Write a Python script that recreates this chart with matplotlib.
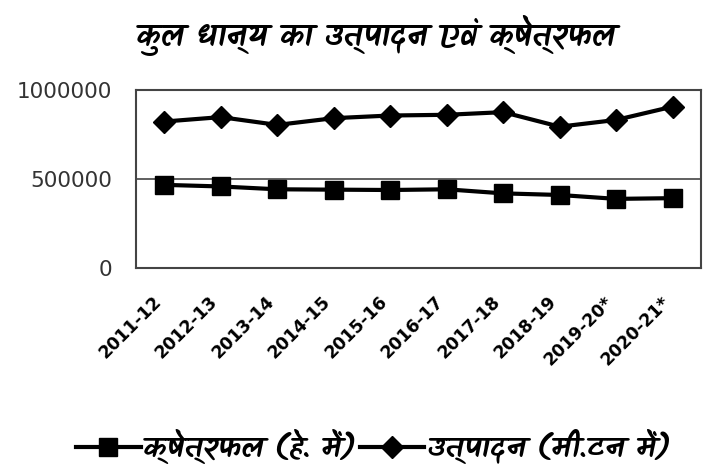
import numpy as np
import matplotlib
matplotlib.use("Agg")
import matplotlib.pyplot as plt
import matplotlib.transforms as mtransforms
from matplotlib import font_manager as fm
from matplotlib.ft2font import FT2Font

# data
years = ["2011-12", "2012-13", "2013-14", "2014-15", "2015-16",
         "2016-17", "2017-18", "2018-19", "2019-20*", "2020-21*"]
area = [467000, 458000, 442000, 440000, 438000, 442000, 419000, 410000, 388000, 392000]
production = [824000, 849000, 805000, 843000, 858000, 862000, 877000, 795000, 833000, 908000]

title_text = "कुल धान्य का उत्पादन एवं क्षेत्रफल"
area_label = "क्षेत्रफल (हे. में)"
prod_label = "उत्पादन (मी.टन में)"


# pick a font with Devanagari glyphs, handwriting style first
def find_devanagari_font():
    found = []
    for path in fm.findSystemFonts():
        try:
            if FT2Font(path).get_char_index(0x0915):
                found.append(path)
        except Exception:
            continue
    for want in ["Kalam-Bold.ttf", "Kalam-Regular.ttf", "NotoSansDevanagari-Bold.ttf",
                 "NotoSansDevanagari-Regular.ttf", "Mukta-SemiBold.ttf"]:
        for p in found:
            if p.endswith(want):
                return p
    for p in found:
        if "unifont" not in p:
            return p
    return None


deva_path = find_devanagari_font()


def deva_font(size):
    if deva_path:
        return fm.FontProperties(fname=deva_path, size=size)
    return fm.FontProperties(family="DejaVu Sans", size=size)


fig = plt.figure(figsize=(7.05, 4.68), dpi=100)
ax = fig.add_axes([0.193, 0.428, 0.801, 0.379])

x = np.arange(len(years))
ax.plot(x, area, color="black", linewidth=3, marker="s", markersize=13, label=area_label)
ax.plot(x, production, color="black", linewidth=3, marker="D", markersize=11, label=prod_label)

ax.set_xlim(-0.5, len(years) - 0.5)
ax.set_ylim(0, 1000000)
ax.set_yticks([0, 500000, 1000000])
ax.set_yticklabels(["0", "500000", "1000000"], fontsize=15.5, color="#333333")
ax.set_xticks(x)
ax.set_xticklabels(years, rotation=45, ha="right", rotation_mode="anchor",
                   fontsize=12.5, fontweight="bold")
ax.tick_params(axis="y", length=0, pad=17)
ax.tick_params(axis="x", length=0, pad=18)
shift = mtransforms.ScaledTranslation(-12 / 100, 0, fig.dpi_scale_trans)
for lbl in ax.get_xticklabels():
    lbl.set_transform(lbl.get_transform() + shift)
ax.grid(axis="y", color="#444444", linewidth=1.2)
ax.set_axisbelow(True)
for s in ax.spines.values():
    s.set_color("#444444")
    s.set_linewidth(1.5)

fig.text(0.533, 0.925, title_text, ha="center", va="center",
         fontproperties=deva_font(22))

fig.legend(loc="center", bbox_to_anchor=(0.53, 0.045), ncol=2, frameon=False,
           prop=deva_font(21), handlelength=2.2,
           handletextpad=0.1, columnspacing=0.1)

fig.savefig("out.png", dpi=100)
